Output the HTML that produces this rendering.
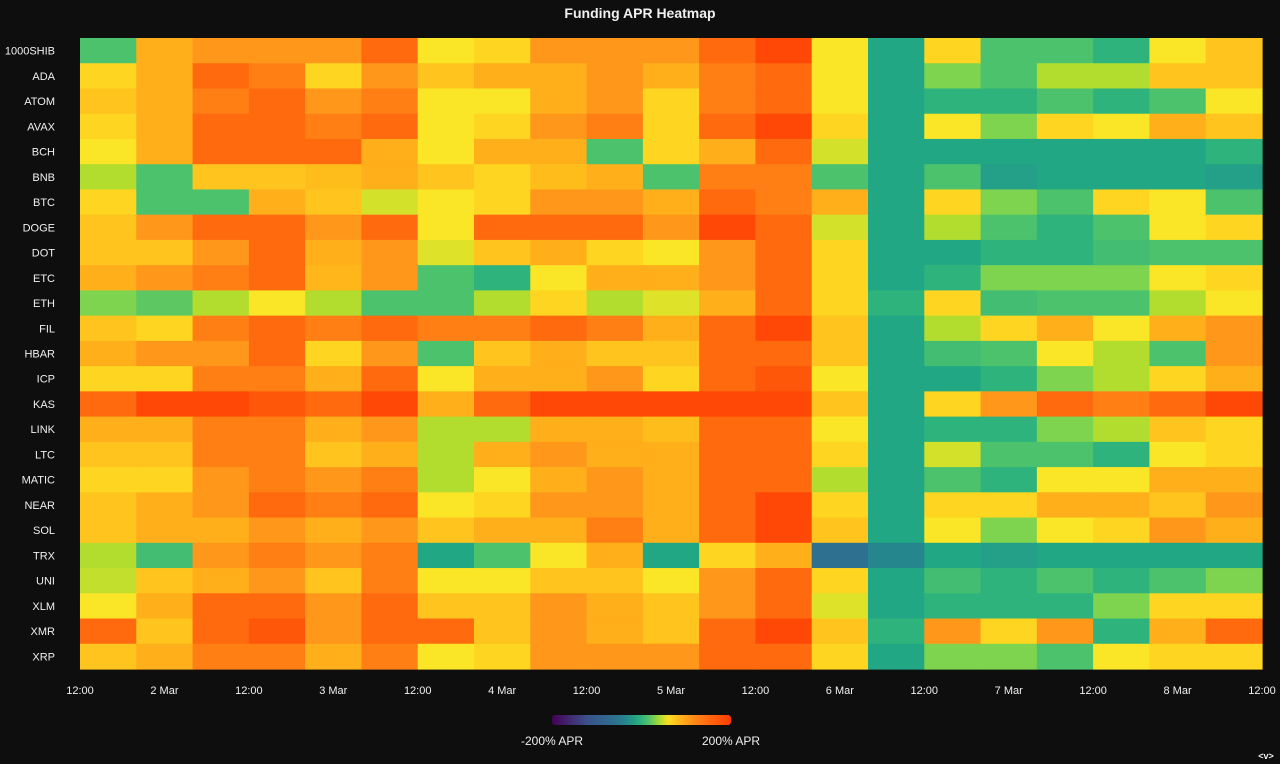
<!DOCTYPE html>
<html><head><meta charset="utf-8">
<style>
html,body{margin:0;padding:0;background:#0e0e0e;width:1280px;height:764px;overflow:hidden;font-family:"Liberation Sans",sans-serif;}
svg text{font-family:"Liberation Sans",sans-serif;fill:#f0f0f0;}
</style></head>
<body>
<svg id="chart" width="1280" height="764" viewBox="0 0 1280 764" xmlns="http://www.w3.org/2000/svg">
<rect x="0" y="0" width="1280" height="764" fill="#0e0e0e"/>
<text x="640" y="18" text-anchor="middle" font-size="14" font-weight="bold">Funding APR Heatmap</text>
<g id="cells"></g>
<g id="ylabels"></g>
<g id="xlabels"></g>
<defs><linearGradient id="lg" x1="0" x2="1" y1="0" y2="0"></linearGradient></defs>
<rect x="552" y="715" width="179" height="10" rx="3" fill="url(#lg)"/>
<text x="552" y="745" text-anchor="middle" font-size="12">-200% APR</text>
<text x="731" y="745" text-anchor="middle" font-size="12">200% APR</text>
<text x="1266" y="759" text-anchor="middle" font-size="9" font-weight="bold">&lt;v&gt;</text>
</svg>
<script>
const symbols = ["1000SHIB","ADA","ATOM","AVAX","BCH","BNB","BTC","DOGE","DOT","ETC","ETH","FIL","HBAR","ICP","KAS","LINK","LTC","MATIC","NEAR","SOL","TRX","UNI","XLM","XMR","XRP"];
const periodHours = 8;
const startHour = 12; // 1 Mar 12:00
const xTickLabels = ["12:00","2 Mar","12:00","3 Mar","12:00","4 Mar","12:00","5 Mar","12:00","6 Mar","12:00","7 Mar","12:00","8 Mar","12:00"];
const xTickHours = [0,12,24,36,48,60,72,84,96,108,120,132,144,156,168];
const aprValues = [
[15,90,105,105,105,150,55,65,105,105,105,150,185,55,-10,65,15,15,0,55,75],
[65,90,150,125,65,105,75,90,90,105,90,125,150,55,-10,30,15,42,42,75,75],
[75,90,125,150,105,125,55,55,90,105,65,125,150,55,-10,0,0,15,0,15,55],
[65,90,150,150,125,150,55,65,105,125,65,150,185,65,-10,55,30,65,55,90,75],
[55,90,150,150,150,90,55,90,90,15,65,90,150,48,-10,-10,-10,-10,-10,-10,0],
[42,15,75,75,80,90,75,65,80,90,15,125,125,15,-10,15,-15,-10,-10,-10,-15],
[65,15,15,90,75,48,55,65,105,105,90,150,125,90,-10,65,30,15,65,55,15],
[75,105,150,150,105,150,55,150,150,150,105,185,150,48,-10,42,15,0,15,55,65],
[75,75,105,150,90,105,50,75,90,65,55,105,150,65,-10,-10,0,0,10,15,15],
[90,105,125,150,85,105,15,0,55,90,90,105,150,65,-10,0,30,30,30,55,65],
[30,20,42,55,42,15,15,42,65,42,50,90,150,65,0,65,10,15,15,42,55],
[75,65,125,150,125,150,125,125,150,125,90,150,185,75,-10,42,65,90,55,90,105],
[90,105,105,150,65,105,15,75,90,75,75,150,150,75,-10,10,15,55,42,15,105],
[65,65,125,125,90,150,55,90,90,105,65,150,170,55,-10,-10,0,30,42,65,90],
[150,185,185,170,150,185,90,150,185,185,185,185,185,75,-10,65,105,150,125,150,185],
[90,90,125,125,90,105,42,42,90,90,80,150,150,55,-10,0,0,30,42,75,65],
[75,75,125,125,75,90,42,90,105,90,90,150,150,65,-10,48,15,15,0,55,65],
[65,65,105,125,105,125,42,55,90,105,90,150,150,42,-10,15,0,55,55,90,90],
[75,90,105,150,125,150,55,65,105,105,90,150,185,65,-10,65,65,90,90,75,105],
[75,90,90,105,90,105,75,90,90,125,90,150,185,75,-10,55,30,55,65,105,90],
[42,10,105,125,105,125,-10,15,55,90,-10,65,90,-60,-35,-10,-15,-10,-10,-10,-10],
[45,75,90,105,75,125,55,55,75,75,55,105,150,65,-10,10,0,15,0,15,30],
[55,90,150,150,105,150,75,75,105,90,75,105,150,50,-10,0,0,0,30,65,65],
[150,75,150,170,105,150,150,75,105,90,75,150,185,75,0,105,65,105,0,90,150],
[75,90,125,125,90,125,55,65,105,105,105,150,150,65,-10,30,30,15,55,65,65]
];
const colorStopVals = [-200,-120,-60,-35,-10,0,15,30,42,55,65,75,90,105,125,150,185,200];
const colorStopCols = ["#440154","#3b528b","#2d7090","#25868d","#22a785","#2eb37c","#4cc26c","#7ed34f","#b2dd2f","#fae526","#fed520","#ffc41d","#ffaf1a","#ff981a","#ff7f15","#ff6a0f","#ff4805","#ff3d00"];

function hex(c){return [parseInt(c.slice(1,3),16),parseInt(c.slice(3,5),16),parseInt(c.slice(5,7),16)];}
function colorScale(v){
  v=Math.max(-200,Math.min(200,v));
  for(let i=0;i<colorStopVals.length-1;i++){
    if(v<=colorStopVals[i+1]){
      const t=(v-colorStopVals[i])/(colorStopVals[i+1]-colorStopVals[i]);
      const a=hex(colorStopCols[i]),b=hex(colorStopCols[i+1]);
      return "rgb("+a.map((x,k)=>Math.round(x+(b[k]-x)*t)).join(",")+")";
    }
  }
  return colorStopCols[colorStopCols.length-1];
}
const plotL=80,plotR=1262,plotT=38,plotB=669;
const totalHours=xTickHours[xTickHours.length-1];
function xScale(h){return plotL+h/totalHours*(plotR-plotL);}
function yScale(i){return plotT+i*(plotB-plotT)/symbols.length;}
const NS="http://www.w3.org/2000/svg";
const cells=document.getElementById("cells");
aprValues.forEach((row,r)=>{
  row.forEach((v,c)=>{
    const x0=xScale(c*periodHours),x1=xScale((c+1)*periodHours);
    const y0=yScale(r),y1=yScale(r+1);
    const el=document.createElementNS(NS,"rect");
    el.setAttribute("x",x0.toFixed(2));el.setAttribute("y",y0.toFixed(2));
    el.setAttribute("width",(x1-x0+0.6).toFixed(2));el.setAttribute("height",(y1-y0+0.6).toFixed(2));
    el.setAttribute("fill",colorScale(v));
    
    
    cells.appendChild(el);
  });
});
const yl=document.getElementById("ylabels");
symbols.forEach((s,i)=>{
  const t=document.createElementNS(NS,"text");
  t.setAttribute("x",55);t.setAttribute("y",(yScale(i)+yScale(i+1))/2+4);
  t.setAttribute("text-anchor","end");t.setAttribute("font-size","11");
  t.textContent=s;
  
  
  yl.appendChild(t);
});
const xl=document.getElementById("xlabels");
xTickLabels.forEach((s,i)=>{
  const t=document.createElementNS(NS,"text");
  t.setAttribute("x",xScale(xTickHours[i]));t.setAttribute("y",694);
  t.setAttribute("text-anchor","middle");t.setAttribute("font-size","11");
  t.textContent=s;
  
  
  xl.appendChild(t);
});
const lg=document.getElementById("lg");
for(let i=0;i<=20;i++){
  const v=-200+i*20;
  const st=document.createElementNS(NS,"stop");
  st.setAttribute("offset",(i/20).toFixed(3));
  st.setAttribute("stop-color",colorScale(v));
  lg.appendChild(st);
}
</script>
</body></html>
